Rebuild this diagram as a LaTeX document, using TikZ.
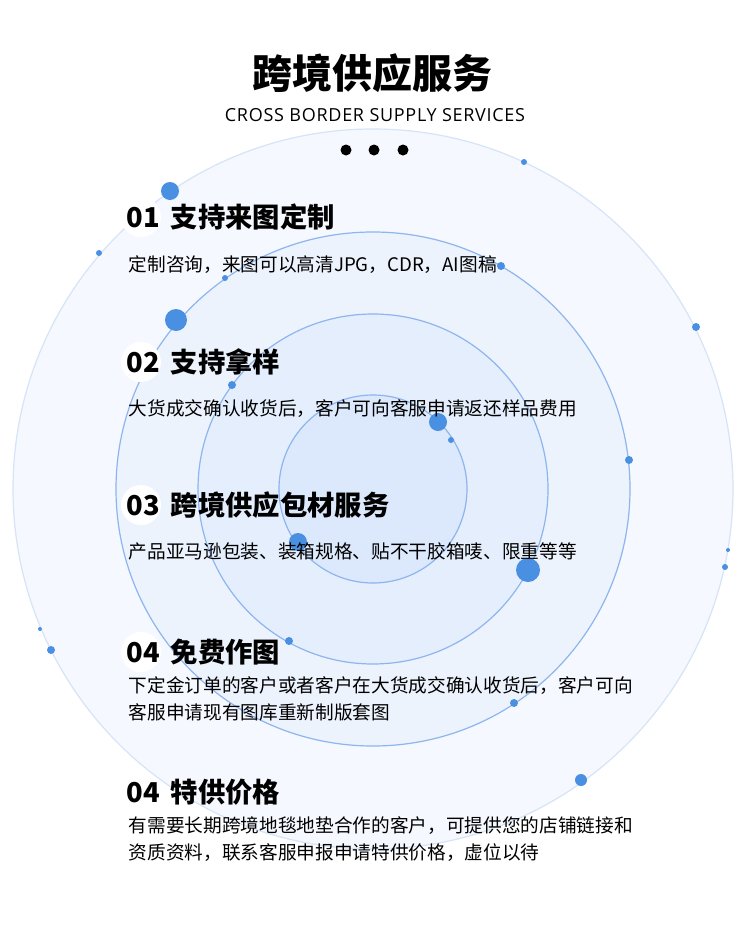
\documentclass[tikz,border=0pt]{standalone}
\usepackage{fontspec}
\setmainfont{Noto Sans CJK SC}
\newfontfamily\latinsans{Open Sans}
\definecolor{fillA}{HTML}{F5F8FE}
\definecolor{fillB}{HTML}{EDF3FD}
\definecolor{fillC}{HTML}{E5EEFC}
\definecolor{fillD}{HTML}{DCE8FB}
\definecolor{ringblue}{HTML}{8DB5EE}
\definecolor{ringpale}{HTML}{D6E4F8}
\definecolor{dotblue}{HTML}{4A90E2}
\begin{document}
\begin{tikzpicture}[x=0.75pt,y=-0.75pt]

\tikzset{ring/.style = {draw=ringblue, line width=0.9pt}}
\tikzset{dot/.style = {circle, fill=dotblue, inner sep=0pt}}
\tikzset{heading/.style = {anchor=west, font=\fontsize{20.5}{24}\bfseries\selectfont}}
\tikzset{body/.style = {anchor=west, align=left, font=\fontsize{14}{20}\selectfont}}

\useasboundingbox (0,0) rectangle (750,932);
\fill[white] (0,0) rectangle (750,932);

% rings
\fill[fillA] (373,489) circle (360);
\draw[ringpale, line width=0.9pt] (373,489) circle (360);
\fill[fillB] (373,489) circle (257);
\draw[ring] (373,489) circle (257);
\fill[fillC] (373,489) circle (175);
\draw[ring] (373,489) circle (175);
\fill[fillD] (373,489) circle (94);
\draw[ring] (373,489) circle (94);

% dots
\foreach \px/\py/\pr [count=\i] in {170/191/9, 176/320/11, 438/422/9, 451/440/3,
  298/542/9, 528/570/12, 581/780/6, 629/460/4, 696/327/4, 725/567/3, 728/550/2,
  524/162/3, 99/253/3, 225/278/3, 232/385/4, 289/641/4, 514/703/4, 501/266/4,
  40/629/2, 51/650/4}
  \node[dot, minimum size=2*\pr*0.75pt] (d\i) at (\px,\py) {};

% title
\node (title) at (372,73) {\fontsize{30}{34}\bfseries\selectfont 跨境供应服务};
\node (sub) at (375,115) {\latinsans\fontsize{13.5}{15}\selectfont\addfontfeature{LetterSpace=4} CROSS BORDER SUPPLY SERVICES};
\foreach \px [count=\i] in {346,374,403}
  \fill (\px,150) circle (5.5);

% items
\foreach \py [count=\i] in {217,362,505,652,792}
  \fill[white] (141,\py) circle (20);
\node[heading] (h1) at (122,217) {01\, 支持来图定制};
\node[heading] (h2) at (122,362) {02\, 支持拿样};
\node[heading] (h3) at (122,505) {03\, 跨境供应包材服务};
\node[heading] (h4) at (122,652) {04\, 免费作图};
\node[heading] (h5) at (122,792) {04\, 特供价格};

\node[body] (b1) at (124,265) {定制咨询，来图可以高清JPG，CDR，AI图稿};
\node[body] (b2) at (124,409) {大货成交确认收货后，客户可向客服申请返还样品费用};
\node[body] (b3) at (124,551) {产品亚马逊包装、装箱规格、贴不干胶箱唛、限重等等};
\node[body] (b4) at (124,699) {下定金订单的客户或者客户在大货成交确认收货后，客户可向\\客服申请现有图库重新制版套图};
\node[body] (b5) at (124,839) {有需要长期跨境地毯地垫合作的客户，可提供您的店铺链接和\\资质资料，联系客服申报申请特供价格，虚位以待};

\end{tikzpicture}
\end{document}
